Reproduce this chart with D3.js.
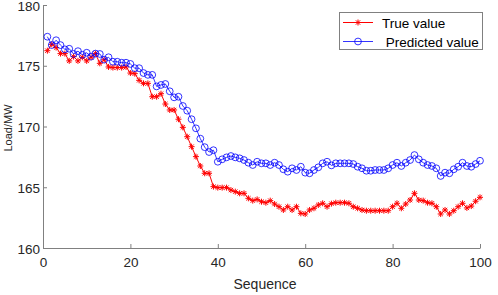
<!DOCTYPE html>
<html>
<head>
<meta charset="utf-8">
<script src="https://cdn.jsdelivr.net/npm/d3@7"></script>
<style>
  body { margin: 0; background: #fff; }
  svg { display: block; font-family: "Liberation Sans", Arial, sans-serif; }
  .axis path, .axis line { stroke: #808080; }
  .axis text { fill: #262626; font-size: 13.5px; }
</style>
</head>
<body>
<svg id="chart" width="498" height="295"></svg>
<script>
// sequence 1..100
const sequence = d3.range(1, 101);

const trueValue = [
  176.24, 176.76, 176.5, 176.0, 176.0, 175.4, 175.75, 175.4, 175.7, 175.4,
  175.7, 176.0, 175.2, 175.5, 174.9, 174.85, 174.85, 174.85, 174.9, 174.4,
  174.35, 173.8, 173.55, 173.55, 172.45, 172.45, 172.7, 171.85, 171.36, 171.36,
  170.6, 169.93, 169.16, 168.34, 167.52, 166.75, 166.15, 166.15, 165.05, 164.97,
  164.97, 164.97, 164.77, 164.64, 164.5, 164.5, 164.09, 163.9, 164.0, 163.81,
  163.73, 163.9, 163.62, 163.4, 163.13, 163.4, 163.13, 163.4, 162.85, 162.8,
  163.13, 163.27, 163.54, 163.68, 163.4, 163.65, 163.73, 163.73, 163.73, 163.68,
  163.4, 163.27, 163.13, 163.07, 163.07, 163.07, 163.07, 163.07, 163.07, 163.4,
  163.68, 163.27, 163.62, 163.95, 164.5, 163.95, 163.9, 163.73, 163.68, 163.4,
  162.8, 163.13, 162.8, 163.07, 163.4, 163.68, 163.3, 163.45, 163.85, 164.17
];

const predictedValue = [
  177.39, 176.7, 177.1, 176.7, 176.35, 176.4, 175.97, 176.2, 175.9, 176.07,
  175.75, 176.0, 175.97, 175.5, 175.7, 175.33, 175.33, 175.25, 175.25, 175.15,
  174.8, 174.8, 174.4, 174.25, 174.25, 173.3, 173.42, 173.5, 172.9, 172.4,
  172.45, 171.69, 171.3, 170.6, 169.85, 169.0, 168.3, 167.9, 168.05, 167.1,
  167.3, 167.46, 167.57, 167.46, 167.38, 167.24, 167.02, 166.83, 167.1, 166.97,
  166.97, 166.83, 167.02, 166.83, 166.48, 166.28, 166.56, 166.42, 166.69, 166.2,
  166.15, 166.42, 166.64, 166.97, 167.1, 166.8, 166.97, 166.97, 166.97, 166.97,
  166.91, 166.69, 166.56, 166.36, 166.36, 166.42, 166.42, 166.42, 166.56, 166.83,
  167.02, 166.75, 167.02, 167.24, 167.65, 167.3, 167.02, 166.83, 166.75, 166.56,
  165.93, 166.2, 166.15, 166.48, 166.69, 167.02, 166.75, 166.69, 166.91, 167.18
];

const xTicks = [0, 20, 40, 60, 80, 100];
const yTicks = [160, 165, 170, 175, 180];
const seriesNames = ["True value", " Predicted value"];

const svg = d3.select("#chart");
const padL = 43, padR = 480, padT = 5, padB = 248;

const x = d3.scaleLinear().domain([0, 100]).range([padL, padR]);
const y = d3.scaleLinear().domain([160, 180]).range([padB, padT]);

// axes, ticks pointing inward
svg.append("g")
  .attr("class", "axis")
  .attr("transform", "translate(0," + padB + ")")
  .call(d3.axisTop(x).tickValues(xTicks).tickSize(4).tickSizeOuter(0))
  .call(g => g.selectAll("text").attr("y", 9).attr("dy", "0.71em"));

svg.append("g")
  .attr("class", "axis")
  .attr("transform", "translate(" + padL + ",0)")
  .call(d3.axisRight(y).tickValues(yTicks).tickSize(4).tickSizeOuter(0))
  .call(g => g.selectAll("text").attr("x", -3).attr("dy", "0.38em").attr("text-anchor", "end"));

svg.append("text")
  .attr("x", 265).attr("y", 289)
  .attr("text-anchor", "middle")
  .attr("font-size", 14).attr("fill", "#262626")
  .text("Sequence");

svg.append("text")
  .attr("transform", "translate(12,128) rotate(-90)")
  .attr("text-anchor", "middle")
  .attr("font-size", 11).attr("fill", "#262626")
  .text("Load/MW");

const line = d3.line()
  .x((d, i) => x(sequence[i]))
  .y(d => y(d));

// asterisk marker path
function star(cx, cy, r) {
  const d = r * 0.72;
  return "M" + (cx - r) + "," + cy + "h" + (2 * r) +
    "M" + cx + "," + (cy - r) + "v" + (2 * r) +
    "M" + (cx - d) + "," + (cy - d) + "l" + (2 * d) + "," + (2 * d) +
    "M" + (cx - d) + "," + (cy + d) + "l" + (2 * d) + "," + (-2 * d);
}

// true value
svg.append("path")
  .datum(trueValue)
  .attr("fill", "none").attr("stroke", "#ff0000").attr("stroke-width", 1)
  .attr("d", line);
svg.append("g").selectAll("path")
  .data(trueValue)
  .join("path")
  .attr("d", (d, i) => star(x(sequence[i]), y(d), 3))
  .attr("stroke", "#ff0000").attr("stroke-width", 1).attr("fill", "none");

// predicted value
svg.append("path")
  .datum(predictedValue)
  .attr("fill", "none").attr("stroke", "#0000ff").attr("stroke-width", 0.8)
  .attr("d", line);
svg.append("g").selectAll("circle")
  .data(predictedValue)
  .join("circle")
  .attr("cx", (d, i) => x(sequence[i]))
  .attr("cy", d => y(d))
  .attr("r", 3.4)
  .attr("fill", "none").attr("stroke", "#0000ff").attr("stroke-width", 0.8);

// legend
const lg = svg.append("g");
lg.append("rect")
  .attr("x", 339.5).attr("y", 12.5).attr("width", 143).attr("height", 37)
  .attr("fill", "#fff").attr("stroke", "#808080");
const legendY = [22.5, 41.5];
lg.append("line").attr("x1", 343).attr("x2", 373).attr("y1", legendY[0]).attr("y2", legendY[0])
  .attr("stroke", "#ff0000");
lg.append("path").attr("d", star(358, legendY[0], 3)).attr("stroke", "#ff0000");
lg.append("line").attr("x1", 343).attr("x2", 373).attr("y1", legendY[1]).attr("y2", legendY[1])
  .attr("stroke", "#0000ff").attr("stroke-width", 0.8);
lg.append("circle").attr("cx", 358).attr("cy", legendY[1]).attr("r", 3.4)
  .attr("fill", "none").attr("stroke", "#0000ff").attr("stroke-width", 0.8);
lg.selectAll("text.leg")
  .data(seriesNames)
  .join("text")
  .attr("class", "leg")
  .attr("x", 382).attr("y", (d, i) => legendY[i] + 5)
  .attr("font-size", 13.5).attr("fill", "#000")
  .attr("xml:space", "preserve")
  .style("white-space", "pre")
  .text(d => d);
</script>
</body>
</html>
